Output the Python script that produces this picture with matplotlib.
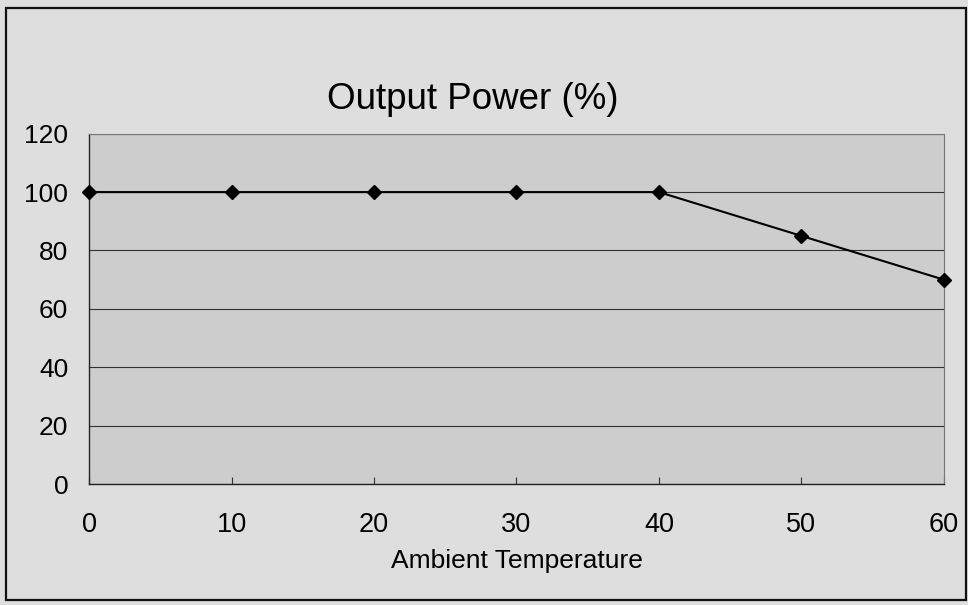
import matplotlib
matplotlib.use("Agg")
import matplotlib.pyplot as plt
from matplotlib.patches import Rectangle

plt.rcParams['font.family'] = ['Liberation Sans', 'DejaVu Sans']

# values
temperature = [0, 10, 20, 30, 40, 50, 60]
output_power = [100, 100, 100, 100, 100, 85, 70]
y_ticks = [0, 20, 40, 60, 80, 100, 120]
x_ticks = [0, 10, 20, 30, 40, 50, 60]

fig = plt.figure(figsize=(9.68, 6.05), dpi=100)
fig.patch.set_facecolor('#dedede')

# outer chart border
fig.patches.append(Rectangle((0.006, 0.008), 0.992, 0.978, transform=fig.transFigure,
                             fill=False, edgecolor='#111111', linewidth=1.6))

ax = fig.add_axes([0.092, 0.2, 0.883, 0.579])
ax.set_facecolor('#cdcdcd')

ax.plot(temperature, output_power, color='black', linewidth=1.5,
        marker='D', markersize=7.5, markerfacecolor='black', markeredgecolor='black',
        zorder=3, clip_on=False)

ax.set_xlim(0, 60)
ax.set_ylim(0, 120)
ax.set_yticks(y_ticks)
ax.set_xticks(x_ticks)
ax.grid(axis='y', color='#333333', linewidth=0.8)
ax.set_axisbelow(True)

ax.tick_params(axis='y', length=0, labelsize=19, pad=15)
ax.tick_params(axis='x', direction='in', length=5, labelsize=19.5, pad=20, color='#333333')

for side in ('top', 'right'):
    ax.spines[side].set_color('#777777')
    ax.spines[side].set_linewidth(0.8)
for side in ('left', 'bottom'):
    ax.spines[side].set_color('#222222')
    ax.spines[side].set_linewidth(1.0)

fig.text(0.488, 0.835, 'Output Power (%)', fontsize=26.5, ha='center', va='center')
fig.text(0.534, 0.072, 'Ambient Temperature', fontsize=19, ha='center', va='center')

fig.savefig('out.png', dpi=100, facecolor=fig.get_facecolor())
